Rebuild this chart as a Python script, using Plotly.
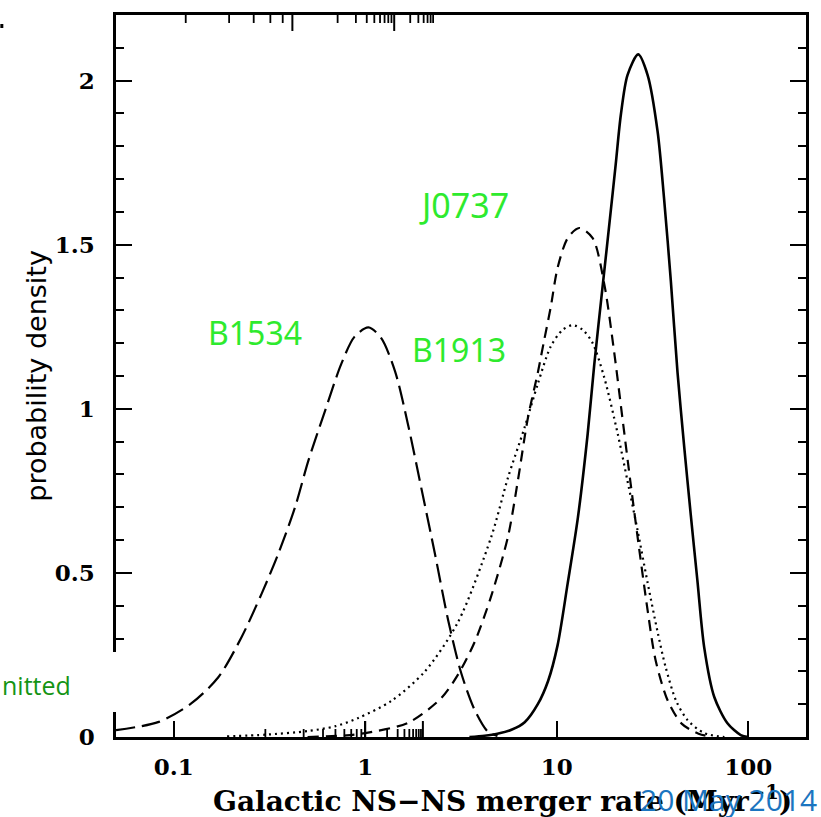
import math
import plotly.graph_objects as go

# ---- data ----
b1534_rate = [0.05, 0.0836, 0.124, 0.171, 0.226, 0.288, 0.352, 0.43, 0.505, 0.617, 0.75, 0.88,
              1.04, 1.21, 1.43, 1.67, 1.96, 2.31, 2.71, 3.17, 3.73, 4.37, 4.9]
b1534_pdf = [0.021, 0.046, 0.103, 0.182, 0.304, 0.437, 0.559, 0.70, 0.842, 0.994, 1.137, 1.22,
             1.248, 1.216, 1.115, 0.954, 0.76, 0.559, 0.356, 0.195, 0.082, 0.016, 0.003]

b1913_rate = [0.19, 0.3, 0.5, 0.7, 0.92, 1.37, 2.05, 3.05, 4.55, 5.56, 6.79, 7.96, 9.3, 10.7,
              12.1, 13.7, 15.4, 17.7, 20.8, 23.4, 26.4, 29.8, 33.6, 37, 42, 48.1, 58.8, 75]
b1913_pdf = [0.002, 0.007, 0.018, 0.033, 0.058, 0.11, 0.2, 0.35, 0.61, 0.79, 0.943, 1.076, 1.19, 1.24,
             1.255, 1.24, 1.2, 1.095, 0.924, 0.78, 0.63, 0.47, 0.32, 0.213, 0.11, 0.052, 0.012, 0.0]

j0737_rate = [0.5, 0.8, 1.0, 1.67, 2.49, 3.05, 3.73, 4.55, 5.56, 6.26, 7.07, 7.96, 8.6, 9.3, 10.1,
              11.4, 13.1, 15.4, 17.7, 19.9, 22.0, 24.3, 27, 29.8, 32.8, 38, 45, 55, 65]
j0737_pdf = [0.0, 0.005, 0.012, 0.043, 0.118, 0.19, 0.29, 0.43, 0.61, 0.78, 0.973, 1.11, 1.21, 1.31, 1.43,
             1.52, 1.551, 1.52, 1.38, 1.176, 0.973, 0.772, 0.568, 0.386, 0.234, 0.11, 0.04, 0.01, 0.0]

total_rate = [3.5, 4.2, 4.9, 5.8, 6.8, 7.96, 9.0, 10.1, 11.4, 12.9, 14.5, 15.7, 17.4, 18.95, 20.3, 21.6,
              23.4, 26.6, 29.8, 33.6, 36.3, 39.4, 42.7, 46.3, 50.0, 54.2, 58.8, 66.4, 77.8, 91.3, 100]
total_pdf = [0.0, 0.004, 0.01, 0.022, 0.045, 0.1, 0.17, 0.28, 0.468, 0.67, 0.924, 1.136, 1.38, 1.58, 1.744, 1.896,
             2.017, 2.08, 2.017, 1.845, 1.642, 1.389, 1.11, 0.882, 0.68, 0.477, 0.274, 0.122, 0.042, 0.006, 0.0]

x_tick_vals = [0.1, 1, 10, 100]
x_tick_text = ["0.1", "1", "10", "100"]
y_tick_vals = [0, 0.5, 1, 1.5, 2]
y_tick_text = ["0", "0.5", "1", "1.5", "2"]
decades = [0.01, 0.1, 1, 10, 100]
minor_digits = [2, 3, 4, 5, 6, 7, 8, 9]
# top axis (other units): its decades sit at 0.261 x the bottom-axis decades
top_factor = 0.261

labels = ["B1534", "J0737", "B1913"]

X_MIN, X_MAX = 0.05, 200.0

# ---- figure ----
fig = go.Figure()
line_common = dict(color="black", shape="spline", smoothing=0.8)
fig.add_trace(go.Scatter(x=b1534_rate, y=b1534_pdf, mode="lines",
                         line=dict(width=2.2, dash="19px,7px", **line_common)))
fig.add_trace(go.Scatter(x=j0737_rate, y=j0737_pdf, mode="lines",
                         line=dict(width=2.2, dash="11px,7px", **line_common)))
fig.add_trace(go.Scatter(x=b1913_rate, y=b1913_pdf, mode="lines",
                         line=dict(width=2.2, dash="2px,4px", **line_common)))
fig.add_trace(go.Scatter(x=total_rate, y=total_pdf, mode="lines",
                         line=dict(width=2.6, **line_common)))

tickfont = dict(family="DejaVu Serif", size=23, color="black", weight="bold")

fig.update_layout(
    width=821, height=817,
    margin=dict(l=116, r=13, t=14, b=80),
    plot_bgcolor="white", paper_bgcolor="white",
    showlegend=False,
    xaxis=dict(type="log", range=[math.log10(X_MIN), math.log10(X_MAX)], showline=True,
               linecolor="black", linewidth=2.5, mirror=True, ticks="inside", ticklen=16,
               tickwidth=2, tickcolor="black", tickmode="array", tickvals=x_tick_vals,
               ticktext=x_tick_text, tickfont=tickfont, showgrid=False, zeroline=False,
               ticklabelstandoff=8),
    yaxis=dict(range=[0, 2.2], showline=True, linecolor="black", linewidth=2.5, mirror="ticks",
               ticks="inside", ticklen=16, tickwidth=2, tickcolor="black",
               tickvals=y_tick_vals, ticktext=y_tick_text, tickfont=tickfont, showgrid=False,
               zeroline=False, ticklabelstandoff=14,
               minor=dict(ticks="inside", ticklen=8, tickwidth=1.8, tickcolor="black",
                          dtick=0.1, showgrid=False)),
)

# tick marks on the log x axes, placed through the x scale (log10 units for shapes)
PLOT_H = 817 - 14 - 80
MAJOR_LEN = 16 / PLOT_H
MINOR_LEN = 8 / PLOT_H

def add_tick(v, bottom, length, width):
    if not (X_MIN < v < X_MAX):
        return
    lx = math.log10(v)
    y0, y1 = (0, length) if bottom else (1, 1 - length)
    fig.add_shape(type="line", xref="x", yref="paper", x0=lx, x1=lx, y0=y0, y1=y1,
                  line=dict(color="black", width=width), layer="above")

for d in decades:
    add_tick(d, True, MAJOR_LEN, 2)
    add_tick(d * top_factor * 10, False, MAJOR_LEN, 2)
    for m in minor_digits:
        add_tick(d * m, True, MINOR_LEN, 1.8)
        add_tick(d * m * top_factor * 10, False, MINOR_LEN, 1.8)

def px(x):
    return (x - 116) / 692.0

def py(y):
    return (737 - y) / 723.0

label_pos = [(255, 332), (465, 204), (460, 349)]
label_size = [32, 34, 32]
for name, (lx, ly), sz in zip(labels, label_pos, label_size):
    fig.add_annotation(x=px(lx), y=py(ly), xref="paper", yref="paper", text=name, showarrow=False,
                       font=dict(family="Noto Sans", size=sz, color="#2eea2e"),
                       xanchor="center", yanchor="middle")

fig.add_annotation(x=px(36), y=py(375), xref="paper", yref="paper", text="probability density",
                   textangle=-90, showarrow=False, xanchor="center", yanchor="middle",
                   font=dict(family="DejaVu Sans", size=27, color="black"))
fig.add_annotation(x=px(504), y=py(800), xref="paper", yref="paper",
                   text="Galactic NS\u2212NS merger rate (Myr<sup>\u22121</sup>)", showarrow=False,
                   xanchor="center", yanchor="middle",
                   font=dict(family="DejaVu Serif", size=28, color="black", weight="bold"))
fig.add_annotation(x=px(640), y=py(800), xref="paper", yref="paper", text="20 May 2014",
                   showarrow=False, xanchor="left", yanchor="middle",
                   font=dict(family="Open Sans", size=30, color="#1b75c0"))

# white overlay from the slide covering part of the left axis
fig.add_shape(type="rect", xref="paper", yref="paper", x0=px(0), x1=px(126), y0=py(712), y1=py(652),
              fillcolor="white", line=dict(width=0), layer="above")
fig.add_annotation(x=px(0), y=py(685), xref="paper", yref="paper", text="nitted", showarrow=False,
                   xanchor="left", yanchor="middle",
                   font=dict(family="Open Sans", size=25, color="#149414"))
fig.add_shape(type="rect", xref="paper", yref="paper", x0=px(0), x1=px(3), y0=py(27), y1=py(23),
              fillcolor="black", line=dict(width=0), layer="above")

fig.write_html("out.html")
